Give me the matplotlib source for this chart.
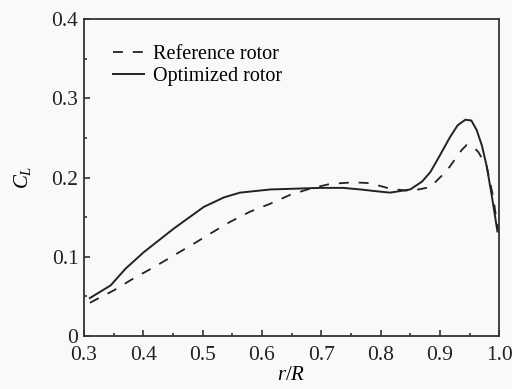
import matplotlib
matplotlib.use("Agg")
import matplotlib.pyplot as plt
from matplotlib.ticker import MultipleLocator

plt.rcParams['font.family'] = ['Liberation Serif', 'DejaVu Serif']
plt.rcParams['mathtext.fontset'] = 'custom'
plt.rcParams['mathtext.it'] = 'Liberation Serif:italic'
plt.rcParams['mathtext.rm'] = 'Liberation Serif'

# Reference rotor (dashed)
ref_x = [0.310, 0.351, 0.384, 0.418, 0.452, 0.486, 0.519, 0.546, 0.580, 0.614,
         0.647, 0.681, 0.715, 0.754, 0.782, 0.816, 0.850, 0.884, 0.912, 0.937,
         0.945, 0.955, 0.965, 0.979, 0.990, 0.998]
ref_y = [0.042, 0.058, 0.073, 0.087, 0.102, 0.117, 0.132, 0.144, 0.157, 0.167,
         0.178, 0.186, 0.192, 0.194, 0.193, 0.186, 0.183, 0.188, 0.209, 0.235,
         0.241, 0.240, 0.232, 0.214, 0.175, 0.133]

# Optimized rotor (solid)
opt_x = [0.310, 0.345, 0.370, 0.401, 0.452, 0.502, 0.536, 0.563, 0.614, 0.698,
         0.737, 0.766, 0.790, 0.816, 0.850, 0.870, 0.884, 0.900, 0.917, 0.930,
         0.943, 0.953, 0.962, 0.971, 0.979, 0.988, 0.997]
opt_y = [0.048, 0.064, 0.085, 0.106, 0.136, 0.163, 0.175, 0.181, 0.185, 0.187,
         0.187, 0.185, 0.183, 0.181, 0.185, 0.195, 0.207, 0.228, 0.251, 0.266,
         0.273, 0.272, 0.260, 0.240, 0.214, 0.175, 0.132]

xticks = [0.3, 0.4, 0.5, 0.6, 0.7, 0.8, 0.9, 1.0]
xtick_labels = ['0.3', '0.4', '0.5', '0.6', '0.7', '0.8', '0.9', '1.0']
yticks = [0.0, 0.1, 0.2, 0.3, 0.4]
ytick_labels = ['0', '0.1', '0.2', '0.3', '0.4']

fig = plt.figure(figsize=(5.12, 3.89), dpi=100, facecolor='#f9f9f9')
ax = fig.add_axes([0.164, 0.136, 0.811, 0.815])
ax.set_facecolor('#f9f9f9')

ax.plot(ref_x, ref_y, color='#222222', lw=1.3, linestyle=(0, (5.5, 5.5)), label='Reference rotor')
ax.plot(opt_x, opt_y, color='#222222', lw=1.4, linestyle='-', label='Optimized rotor')

ax.set_xlim(0.3, 1.0)
ax.set_ylim(0.0, 0.4)
ax.set_xticks(xticks)
ax.set_xticklabels(xtick_labels)
ax.set_yticks(yticks)
ax.set_yticklabels(ytick_labels)
ax.xaxis.set_minor_locator(MultipleLocator(0.05))
ax.yaxis.set_minor_locator(MultipleLocator(0.05))
ax.tick_params(which='both', direction='in', top=False, right=False,
               labelsize=15.5, colors='#333333', width=1.2)
ax.tick_params(which='major', length=4)
ax.tick_params(which='minor', length=2.5)
ax.tick_params(axis='x', which='major', pad=7)
ax.tick_params(axis='y', which='major', pad=4)
for lab in ax.get_xticklabels() + ax.get_yticklabels():
    lab.set_color('#222222')
for s in ax.spines.values():
    s.set_color('#333333')
    s.set_linewidth(1.3)

ax.set_xlabel('$r/R$', fontsize=15, labelpad=1)
ax.set_ylabel('$C_L$', fontsize=15, labelpad=13)

ax.legend(loc='upper left', frameon=False, fontsize=14.5, handlelength=1.55,
          handletextpad=0.45, labelspacing=0.15, borderaxespad=0,
          bbox_to_anchor=(0.05, 0.945))

fig.savefig('out.png', dpi=100, facecolor=fig.get_facecolor())
